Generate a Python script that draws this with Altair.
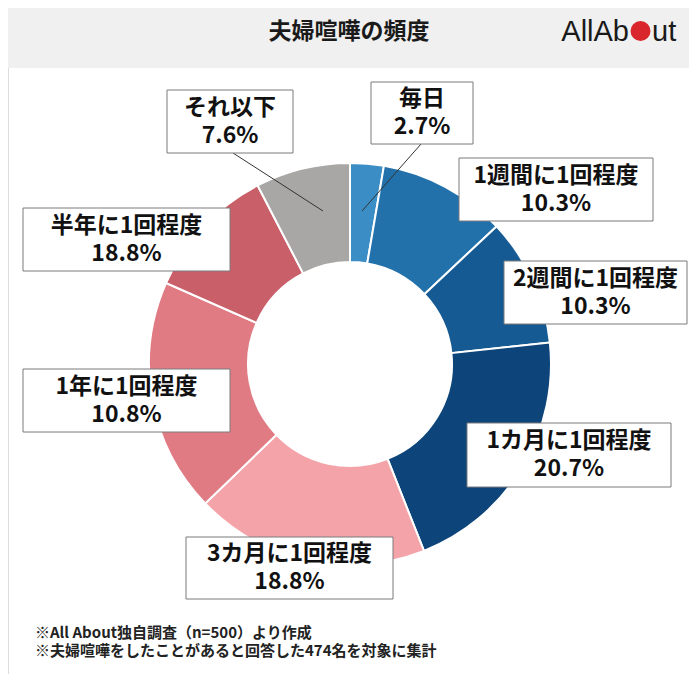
import altair as alt
import pandas as pd

# ---- data ----
categories = ["毎日", "1週間に1回程度", "2週間に1回程度", "1カ月に1回程度",
              "3カ月に1回程度", "半年に1回程度", "1年に1回程度", "それ以下"]
values = [2.7, 10.3, 10.3, 20.7, 18.8, 18.8, 10.8, 7.6]
colors = ["#3a8dc5", "#2271ab", "#155a92", "#0d457a",
          "#f4a3a9", "#e07b84", "#c95f69", "#a9a7a5"]

title_text = "夫婦喧嘩の頻度"
notes = ["※All About独自調査（n=500）より作成",
         "※夫婦喧嘩をしたことがあると回答した474名を対象に集計"]

# ---- layout (annotation boxes in reference pixel coordinates) ----
box_x1 = [371, 459, 504, 467, 186, 23, 23, 167]
box_x2 = [473, 653, 687, 671, 393, 230, 230, 293]
box_y1 = [82, 158, 261, 423, 537, 208, 369, 90]
box_y2 = [144, 221, 324, 487, 599, 271, 432, 153]

leader_x1 = [421, 233]
leader_y1 = [144, 153]
leader_x2 = [362, 323]
leader_y2 = [211, 211]

W, H = 681, 666
xs = alt.Scale(domain=[8, 8 + W])
ys = alt.Scale(domain=[8, 8 + H], reverse=True)

slices = pd.DataFrame({"cat": categories, "value": values, "idx": range(len(values))})

lab_rows = []
for i in range(len(categories)):
    lab_rows.append({
        "x1": box_x1[i], "x2": box_x2[i], "y1": box_y1[i], "y2": box_y2[i],
        "cx": (box_x1[i] + box_x2[i]) / 2, "cy": (box_y1[i] + box_y2[i]) / 2,
        "txt": f"{categories[i]}\n{values[i]:.1f}%",
    })
labels = pd.DataFrame(lab_rows)
leaders = pd.DataFrame({"x1": leader_x1, "y1": leader_y1, "x2": leader_x2, "y2": leader_y2})

band = alt.Chart(pd.DataFrame({"a": [0]})).mark_rect(color="#f0f0f0").encode(
    x=alt.value(0), x2=alt.value(W), y=alt.value(0), y2=alt.value(60))

title = alt.Chart(pd.DataFrame({"x": [349], "y": [32], "t": [title_text]})).mark_text(
    font="Noto Sans CJK JP", fontWeight="bold", fontSize=23, color="#1a1a1a", baseline="middle"
).encode(x=alt.X("x:Q", scale=xs, axis=None), y=alt.Y("y:Q", scale=ys, axis=None), text="t:N")

logo_txt = alt.Chart(pd.DataFrame({"x": [629], "y": [41], "t": ["AllAb"]})).mark_text(
    font="Liberation Sans", fontSize=29, color="#1a1a1a", baseline="alphabetic", align="right"
).encode(x=alt.X("x:Q", scale=xs, axis=None), y=alt.Y("y:Q", scale=ys, axis=None), text="t:N")
logo_txt2 = alt.Chart(pd.DataFrame({"x": [652], "y": [41], "t": ["ut"]})).mark_text(
    font="Liberation Sans", fontSize=29, color="#1a1a1a", baseline="alphabetic", align="left"
).encode(x=alt.X("x:Q", scale=xs, axis=None), y=alt.Y("y:Q", scale=ys, axis=None), text="t:N")
logo_dot = alt.Chart(pd.DataFrame({"x": [640.5], "y": [31]})).mark_point(
    filled=True, shape="circle", size=400, color="#d9262c", opacity=1
).encode(x=alt.X("x:Q", scale=xs, axis=None), y=alt.Y("y:Q", scale=ys, axis=None))

donut = alt.Chart(slices).mark_arc(innerRadius=102, outerRadius=201, stroke="white", strokeWidth=2).encode(
    theta=alt.Theta("value:Q", stack=True),
    color=alt.Color("cat:N", scale=alt.Scale(domain=categories, range=colors), legend=None),
    order=alt.Order("idx:Q"),
    x=alt.value(350 - 8), y=alt.value(364 - 8),
)

lead = alt.Chart(leaders).mark_rule(color="#333333", strokeWidth=1).encode(
    x=alt.X("x1:Q", scale=xs, axis=None), y=alt.Y("y1:Q", scale=ys, axis=None),
    x2="x2:Q", y2="y2:Q")

boxes = alt.Chart(labels).mark_rect(fill="white", stroke="#7a7a7a", strokeWidth=1).encode(
    x=alt.X("x1:Q", scale=xs, axis=None), x2="x2:Q",
    y=alt.Y("y1:Q", scale=ys, axis=None), y2="y2:Q")

texts = alt.Chart(labels).mark_text(
    font="Noto Sans CJK JP", fontWeight="bold", fontSize=23, lineHeight=28, dy=-14,
    lineBreak="\n", color="#111111", baseline="middle", align="center"
).encode(x=alt.X("cx:Q", scale=xs, axis=None), y=alt.Y("cy:Q", scale=ys, axis=None), text="txt:N")

foot = alt.Chart(pd.DataFrame({"x": [35, 35], "y": [633, 651], "t": notes})).mark_text(
    font="Noto Sans CJK JP", fontWeight="bold", fontSize=15, color="#222222",
    baseline="middle", align="left"
).encode(x=alt.X("x:Q", scale=xs, axis=None), y=alt.Y("y:Q", scale=ys, axis=None), text="t:N")

chart = alt.layer(band, title, logo_txt, logo_txt2, logo_dot, donut, lead, boxes, texts, foot).properties(
    width=W, height=H, padding=0
).configure_view(stroke=None).configure(background="white")

chart.save("out.html", embed_options={"renderer": "svg", "actions": False})
